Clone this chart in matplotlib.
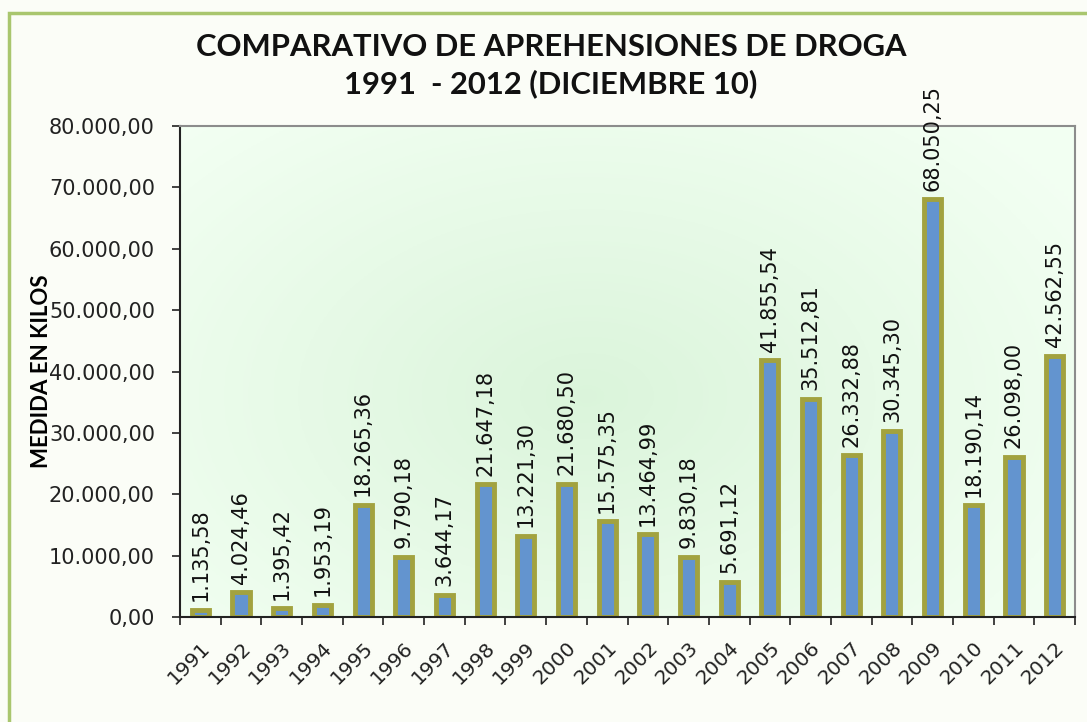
import numpy as np
import matplotlib.pyplot as plt
from matplotlib.patches import Rectangle

years = ['1991', '1992', '1993', '1994', '1995', '1996', '1997', '1998', '1999', '2000', '2001',
         '2002', '2003', '2004', '2005', '2006', '2007', '2008', '2009', '2010', '2011', '2012']
kilos = [1135.58, 4024.46, 1395.42, 1953.19, 18265.36, 9790.18, 3644.17, 21647.18, 13221.30,
         21680.50, 15575.35, 13464.99, 9830.18, 5691.12, 41855.54, 35512.81, 26332.88, 30345.30,
         68050.25, 18190.14, 26098.00, 42562.55]


def fmt(v):
    # formato espanol: 12.345,67
    s = f"{v:,.2f}"
    return s.replace(',', 'X').replace('.', ',').replace('X', '.')


fig = plt.figure(figsize=(10.87, 7.22), dpi=100)
fig.patch.set_facecolor('#fbfdf7')

# marco exterior verde
fig.add_artist(Rectangle((9 / 1087, -0.02), 1.2, (722 - 13) / 722 + 0.02, transform=fig.transFigure,
                         fill=False, edgecolor='#a9c66e', linewidth=2.5))

ax = fig.add_axes([180 / 1087, 105 / 722, 895 / 1087, 491 / 722])

# fondo degradado del area de trazado
n = len(years)
gx = np.linspace(-0.5, n - 0.5, 200)
gy = np.linspace(0, 80000, 200)
X, Y = np.meshgrid(gx, gy)
d = np.sqrt(((X - 9.5) / 14.0) ** 2 + ((Y - 36000) / 60000.0) ** 2)
d = np.clip(d, 0, 1)
c0 = np.array([0.86, 0.96, 0.86])
c1 = np.array([0.95, 1.0, 0.95])
img = c0[None, None, :] * (1 - d[..., None]) + c1[None, None, :] * d[..., None]
ax.imshow(img, extent=(-0.5, n - 0.5, 0, 80000), origin='lower', aspect='auto', zorder=0)

x = np.arange(n)
ax.bar(x, kilos, width=0.42, color='#6394cf', edgecolor='#a2a23f', linewidth=3.5, zorder=2)

for xi, v in zip(x, kilos):
    ax.text(xi, v + 1400, fmt(v), rotation=90, ha='center', va='bottom', fontsize=15,
            color='#111111', clip_on=False, zorder=3)

ax.set_xlim(-0.5, n - 0.5)
ax.set_ylim(0, 80000)
ax.set_yticks(np.arange(0, 80001, 10000))
ax.set_yticklabels([fmt(v) for v in np.arange(0, 80001, 10000)], fontsize=15, color='#222222')
ax.set_xticks(x)
ax.set_xticklabels(years, rotation=45, ha='right', rotation_mode='anchor', fontsize=14.5, color='#222222')
ax.set_xticks(np.arange(-0.5, n, 1), minor=True)
ax.tick_params(axis='x', which='major', length=0, pad=15)
ax.tick_params(axis='x', which='minor', length=6, width=1.2, color='#222222')
ax.tick_params(axis='y', length=6, width=1.2, color='#222222', pad=12)

for s in ['top', 'right']:
    ax.spines[s].set_color('#8c8c8c')
    ax.spines[s].set_linewidth(1.5)
for s in ['left', 'bottom']:
    ax.spines[s].set_color('#222222')
    ax.spines[s].set_linewidth(1.5)

ax.set_ylabel('MEDIDA EN KILOS', fontsize=16, fontweight='bold', family='Lato')
ax.yaxis.set_label_coords(-0.143, 0.5)

fig.text(551 / 1087, 1 - 47 / 722, 'COMPARATIVO DE APREHENSIONES DE DROGA', ha='center', va='center',
         fontsize=22.3, fontweight='bold', family='Lato', color='#111111')
fig.text(551 / 1087, 1 - 84 / 722, '1991  - 2012 (DICIEMBRE 10)', ha='center', va='center',
         fontsize=22.3, fontweight='bold', family='Lato', color='#111111')

fig.savefig('out.png', dpi=100, facecolor=fig.get_facecolor())
